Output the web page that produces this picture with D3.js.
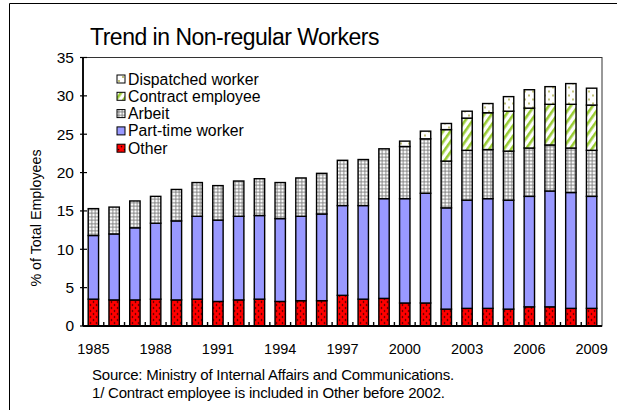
<!DOCTYPE html>
<html>
<head>
<meta charset="utf-8">
<script src="https://cdn.jsdelivr.net/npm/d3@7"></script>
<style>
  body { margin: 0; background: #fff; }
  svg { display: block; font-family: "Liberation Sans", Arial, sans-serif; }
</style>
</head>
<body>
<svg id="chart" width="617" height="410"></svg>
<script>
// data
const years = d3.range(1985, 2010);
const other      = [3.5, 3.4, 3.4, 3.5, 3.4, 3.5, 3.2, 3.4, 3.5, 3.2, 3.3, 3.3, 4.0, 3.5, 3.6, 3.0, 3.0, 2.2, 2.3, 2.3, 2.2, 2.5, 2.5, 2.3, 2.3];
const partTime   = [8.3, 8.6, 9.4, 9.9, 10.3, 10.8, 10.6, 10.9, 10.9, 10.8, 11.0, 11.3, 11.7, 12.2, 13.0, 13.6, 14.3, 13.2, 14.1, 14.3, 14.2, 14.4, 15.1, 15.1, 14.6];
const arbeit     = [3.5, 3.5, 3.5, 3.5, 4.1, 4.4, 4.5, 4.6, 4.8, 4.7, 5.0, 5.3, 5.9, 6.0, 6.5, 6.8, 7.1, 6.1, 6.5, 6.4, 6.4, 6.3, 6.0, 5.8, 6.0];
const contract   = [0, 0, 0, 0, 0, 0, 0, 0, 0, 0, 0, 0, 0, 0, 0, 0, 0, 4.1, 4.2, 4.8, 5.2, 5.2, 5.3, 5.7, 5.9];
const dispatched = [0, 0, 0, 0, 0, 0, 0, 0, 0, 0, 0, 0, 0, 0, 0, 0.7, 1.0, 0.8, 0.9, 1.2, 1.9, 2.4, 2.3, 2.7, 2.2];
const yTicks = [0, 5, 10, 15, 20, 25, 30, 35];
const xLabels = [1985, 1988, 1991, 1994, 1997, 2000, 2003, 2006, 2009];

const seriesKeys = ["other", "partTime", "arbeit", "contract", "dispatched"];
const legendItems = [
    {key: "dispatched", label: "Dispatched worker"},
    {key: "contract", label: "Contract employee"},
    {key: "arbeit", label: "Arbeit"},
    {key: "partTime", label: "Part-time worker"},
    {key: "other", label: "Other"}
];

const table = years.map((yr, i) => ({
    year: yr,
    other: other[i],
    partTime: partTime[i],
    arbeit: arbeit[i],
    contract: contract[i],
    dispatched: dispatched[i]
}));

const svg = d3.select("#chart");
const margin = {top: 57.5, right: 15, bottom: 84, left: 83};
const width = +svg.attr("width");
const height = +svg.attr("height");
const innerWidth = width - margin.left - margin.right;
const innerHeight = height - margin.top - margin.bottom;

// patterns
const defs = svg.append("defs");

const pOther = defs.append("pattern").attr("id", "p-other")
    .attr("patternUnits", "userSpaceOnUse").attr("width", 6).attr("height", 6);
pOther.append("rect").attr("width", 6).attr("height", 6).attr("fill", "#ff0000");
pOther.append("circle").attr("cx", 1.5).attr("cy", 1.5).attr("r", 0.8).attr("fill", "#000");
pOther.append("circle").attr("cx", 4.5).attr("cy", 4.5).attr("r", 0.8).attr("fill", "#000");

const pArbeit = defs.append("pattern").attr("id", "p-arbeit")
    .attr("patternUnits", "userSpaceOnUse").attr("width", 3.5).attr("height", 3.5);
pArbeit.append("rect").attr("width", 3.5).attr("height", 3.5).attr("fill", "#fff");
pArbeit.append("circle").attr("cx", 1.75).attr("cy", 1.75).attr("r", 1.05)
    .attr("fill", "#fff").attr("stroke", "#444").attr("stroke-width", 0.7);

const pContract = defs.append("pattern").attr("id", "p-contract")
    .attr("patternUnits", "userSpaceOnUse").attr("width", 6).attr("height", 6)
    .attr("patternTransform", "rotate(35)");
pContract.append("rect").attr("width", 6).attr("height", 6).attr("fill", "#fff");
pContract.append("rect").attr("x", 0).attr("width", 2.6).attr("height", 6).attr("fill", "#99cc33");

const pDisp = defs.append("pattern").attr("id", "p-dispatched")
    .attr("patternUnits", "userSpaceOnUse").attr("width", 8).attr("height", 8);
pDisp.append("rect").attr("width", 8).attr("height", 8).attr("fill", "#fff");
pDisp.append("circle").attr("cx", 2).attr("cy", 2).attr("r", 0.9).attr("fill", "#a3a33a");
pDisp.append("circle").attr("cx", 6).attr("cy", 6).attr("r", 0.9).attr("fill", "#a3a33a");

const fills = {
    other: "url(#p-other)",
    partTime: "#9999ff",
    arbeit: "url(#p-arbeit)",
    contract: "url(#p-contract)",
    dispatched: "url(#p-dispatched)"
};

// outer chart frame (left and top edges visible)
svg.append("path")
    .attr("d", "M9.5,420 V3.5 H630")
    .attr("fill", "none").attr("stroke", "#000").attr("stroke-width", 1);

// title
svg.append("text")
    .attr("x", 90).attr("y", 45)
    .attr("font-size", 23).attr("letter-spacing", -0.5)
    .text("Trend in Non-regular Workers");

const g = svg.append("g").attr("transform", `translate(${margin.left},${margin.top})`);

const x = d3.scaleBand().domain(years).range([0, innerWidth])
    .paddingInner(0.5).paddingOuter(0.25);
const y = d3.scaleLinear().domain([0, 35]).range([innerHeight, 0]);

// plot frame
g.append("rect")
    .attr("width", innerWidth).attr("height", innerHeight)
    .attr("fill", "none").attr("stroke", "#333").attr("stroke-width", 1);

// stacked bars
const stacked = d3.stack().keys(seriesKeys)(table);
const layers = g.selectAll(".layer")
    .data(stacked)
    .enter().append("g")
    .attr("class", "layer")
    .attr("fill", d => fills[d.key]);

layers.selectAll("rect")
    .data(d => d.filter(s => s[1] - s[0] > 0))
    .enter().append("rect")
    .attr("x", d => x(d.data.year))
    .attr("y", d => y(d[1]))
    .attr("width", x.bandwidth())
    .attr("height", d => y(d[0]) - y(d[1]))
    .attr("stroke", "#000")
    .attr("stroke-width", 1.4);

// y axis
const yAxis = g.append("g")
    .call(d3.axisLeft(y).tickValues(yTicks).tickSize(0).tickPadding(9));
yAxis.select(".domain").remove();
yAxis.selectAll("text").attr("font-size", 15.5).attr("fill", "#000")
    .attr("font-family", "Liberation Sans, Arial, sans-serif");
g.selectAll(".ytick")
    .data(yTicks)
    .enter().append("line")
    .attr("class", "ytick")
    .attr("x1", -3).attr("x2", 4)
    .attr("y1", d => y(d)).attr("y2", d => y(d))
    .attr("stroke", "#000").attr("stroke-width", 1.2);
g.append("line")
    .attr("x1", 0).attr("x2", 0).attr("y1", 0).attr("y2", innerHeight)
    .attr("stroke", "#000").attr("stroke-width", 1.8);

// x axis
const xAxis = g.append("g")
    .attr("transform", `translate(0,${innerHeight})`)
    .call(d3.axisBottom(x).tickValues(xLabels).tickSize(0).tickPadding(18));
xAxis.select(".domain").remove();
xAxis.selectAll("text").attr("font-size", 14.5).attr("fill", "#000")
    .attr("font-family", "Liberation Sans, Arial, sans-serif");

const bounds = years.map(yr => x(yr) + x.bandwidth() / 2 - x.step() / 2);
g.selectAll(".xtick")
    .data(bounds)
    .enter().append("line")
    .attr("class", "xtick")
    .attr("x1", d => d).attr("x2", d => d)
    .attr("y1", innerHeight - 4).attr("y2", innerHeight)
    .attr("stroke", "#000").attr("stroke-width", 1.4);
g.append("line")
    .attr("x1", 0).attr("x2", innerWidth).attr("y1", innerHeight).attr("y2", innerHeight)
    .attr("stroke", "#000").attr("stroke-width", 2);

// y axis title
svg.append("text")
    .attr("transform", "translate(41,218) rotate(-90)")
    .attr("text-anchor", "middle")
    .attr("font-size", 14.3)
    .text("% of Total Employees");

// legend
const legend = g.append("g").attr("transform", "translate(34,21.5)");
const rows = legend.selectAll(".row")
    .data(legendItems)
    .enter().append("g")
    .attr("class", "row")
    .attr("transform", (d, i) => `translate(0,${i * 17.3})`);
rows.append("rect")
    .attr("x", 0).attr("y", -4).attr("width", 8).attr("height", 8)
    .attr("fill", d => fills[d.key])
    .attr("stroke", "#000").attr("stroke-width", 1);
rows.append("text")
    .attr("x", 11).attr("y", 5.5)
    .attr("font-size", 15.8)
    .text(d => d.label);

// notes
svg.append("text")
    .attr("x", 92).attr("y", 380)
    .attr("font-size", 15).attr("letter-spacing", -0.2)
    .text("Source:  Ministry of Internal Affairs and Communications.");
svg.append("text")
    .attr("x", 92).attr("y", 398)
    .attr("font-size", 15).attr("letter-spacing", -0.2)
    .text("1/ Contract employee is included in Other before 2002.");
</script>
</body>
</html>
